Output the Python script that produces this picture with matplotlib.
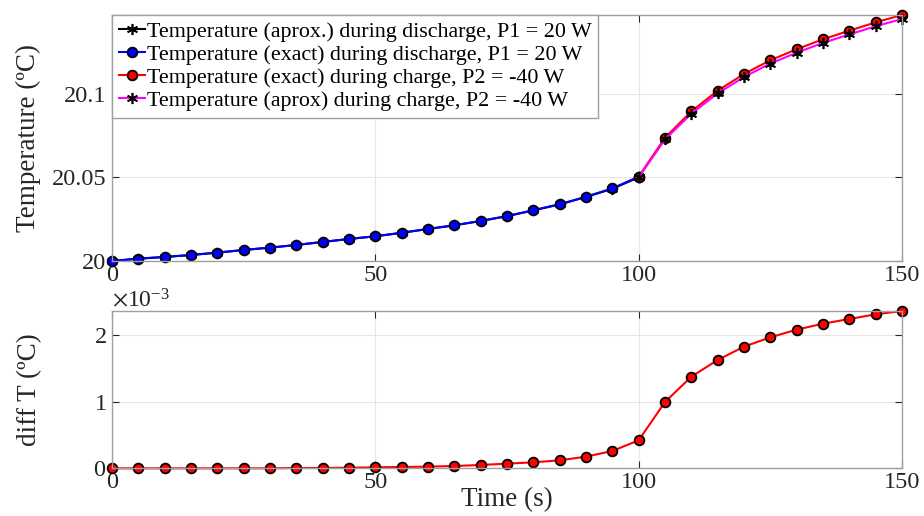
import matplotlib
matplotlib.use("Agg")
import matplotlib.pyplot as plt
import numpy as np
from matplotlib.ticker import ScalarFormatter, FixedLocator

plt.rcParams['font.family'] = ['Liberation Serif', 'DejaVu Serif']
plt.rcParams['mathtext.fontset'] = 'stix'

# Discharge segment (time 0..100 s)
t_dis = [0, 5, 10, 15, 20, 25, 30, 35, 40, 45, 50, 55, 60, 65, 70, 75, 80, 85, 90, 95, 100]
T_dis_exact = [20.0000, 20.0014, 20.0024, 20.0036, 20.0050, 20.0066, 20.0080, 20.0096, 20.0114,
               20.0132, 20.0148, 20.0169, 20.0192, 20.0214, 20.0240, 20.0269, 20.0304, 20.0340,
               20.0385, 20.0435, 20.0505]
# Charge segment (time 100..150 s)
t_ch = [100, 105, 110, 115, 120, 125, 130, 135, 140, 145, 150]
T_ch_exact = [20.0505, 20.0738, 20.0896, 20.1020, 20.1120, 20.1202, 20.1268, 20.1328, 20.1379,
              20.1429, 20.1473]

# Difference exact - approx (in units of 1e-3 degC)
t_diff = t_dis + t_ch[1:]
diff_e3 = [0.0, 0.0, 0.0, 0.0, 0.0, 0.0, 0.0, 0.005, 0.005, 0.01, 0.015, 0.02, 0.025, 0.035,
           0.05, 0.07, 0.09, 0.12, 0.175, 0.26, 0.42,
           0.995, 1.375, 1.625, 1.825, 1.965, 2.08, 2.17, 2.24, 2.31, 2.36]

diff = np.array(diff_e3) * 1e-3
diff_dis = diff[:len(t_dis)]
diff_ch = np.concatenate([[diff[len(t_dis) - 1]], diff[len(t_dis):]])
T_dis_apx = np.array(T_dis_exact) - diff_dis
T_ch_apx = np.array(T_ch_exact) - diff_ch

txtc = '#262626'
fig = plt.figure(figsize=(9.24, 5.16), dpi=100)
ax1 = fig.add_axes([0.1212, 0.4942, 0.855, 0.4767])
ax2 = fig.add_axes([0.1212, 0.0924, 0.855, 0.3049])

lw = 1.5
ast = (6, 2, 0)
ax1.plot(t_dis, T_dis_apx, '-', color='black', marker=ast, ms=8, mfc='black', mec='black', mew=1.2,
         lw=lw, label='Temperature (aprox.) during discharge, P1 = 20 W')
ax1.plot(t_dis, T_dis_exact, '-', color='#0000ff', marker='o', ms=7, mfc='#0000ff', mec='black',
         mew=1.3, lw=lw, label='Temperature (exact) during discharge, P1 = 20 W')
ax1.plot(t_ch, T_ch_exact, '-', color='#ff0000', marker='o', ms=7, mfc='#ff0000', mec='black',
         mew=1.3, lw=lw, label='Temperature (exact) during charge, P2 = -40 W')
ax1.plot(t_ch, T_ch_apx, '-', color='#ff00ff', marker=ast, ms=8, mfc='black', mec='black', mew=1.2,
         lw=lw, label='Temperature (aprox) during charge, P2 = -40 W')

ax2.plot(t_diff, diff, '-', color='#ff0000', marker='o', ms=7, mfc='#ff0000', mec='black',
         mew=1.3, lw=lw)

ax1.set_xlim(0, 150)
ax1.set_ylim(20.0, max(T_ch_exact))
ax1.set_yticks([20.0, 20.05, 20.1])
ax1.set_yticklabels(['20', '20.05', '20.1'])
ax1.set_xticks([0, 50, 100, 150])
ax1.set_ylabel('Temperature (ºC)', fontsize=19.5, color=txtc)
ax1.yaxis.set_label_coords(-0.1063, 0.5)
ax1.yaxis.label.set_verticalalignment('center')

ax2.set_xlim(0, 150)
ax2.set_ylim(0, diff.max())
ax2.yaxis.set_major_locator(FixedLocator([0, 1e-3, 2e-3]))
fmt = ScalarFormatter(useMathText=True)
fmt.set_powerlimits((0, 0))
ax2.yaxis.set_major_formatter(fmt)
ax2.set_xticks([0, 50, 100, 150])
ax2.set_ylabel('diff T (ºC)', fontsize=19.5, color=txtc)
ax2.yaxis.set_label_coords(-0.1038, 0.5)
ax2.yaxis.label.set_verticalalignment('center')
ax2.set_xlabel('Time (s)', fontsize=19.5, color=txtc)
ax2.xaxis.set_label_coords(0.5, -0.2015)
ax2.xaxis.label.set_verticalalignment('center')

for ax in (ax1, ax2):
    ax.grid(True, color='#e6e6e6', lw=0.8)
    ax.set_axisbelow(True)
    ax.tick_params(direction='in', top=True, right=True, labelsize=17.5, colors=txtc,
                   length=5, width=0.8, pad=4)
    ax.tick_params(axis='x', pad=3)
    for s in ax.spines.values():
        s.set_color('#a0a0a0')
        s.set_linewidth(1.0)
    for lab in ax.get_xticklabels() + ax.get_yticklabels():
        lab.set_color(txtc)

ax2.yaxis.get_offset_text().set_fontsize(17)
ax2.yaxis.get_offset_text().set_color(txtc)

leg = ax1.legend(loc='upper left', fontsize=15.8, frameon=True, fancybox=False, borderaxespad=0.0,
                 labelspacing=0.12, handlelength=1.2, handletextpad=0.1, borderpad=0.3,
                 edgecolor='#a0a0a0', framealpha=1)
leg.get_frame().set_linewidth(1.0)
for t in leg.get_texts():
    t.set_color('black')

for ln in ax1.get_lines() + ax2.get_lines():
    ln.set_clip_on(False)

fig.savefig('out.png', dpi=100)
